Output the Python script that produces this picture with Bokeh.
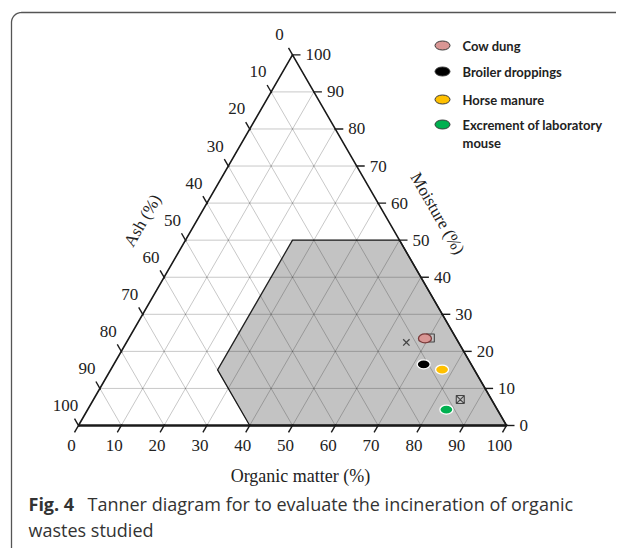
import numpy as np
from bokeh.plotting import figure
from bokeh.models import Range1d
from bokeh.core.properties import value
from bokeh.embed import file_html
from bokeh.resources import INLINE

# ---------------- data ----------------
samples = ["Cow dung", "Broiler droppings", "Horse manure", "Excrement of laboratory mouse"]
organic = [69.2, 72.4, 77.4, 83.8]
moisture = [23.5, 16.5, 15.1, 4.3]
ash = [7.3, 11.1, 7.5, 11.9]
colors = ["#d99694", "#000000", "#ffc000", "#00b050"]
outlines = ["#7a3a3a", "#ffffff", "#ffffff", "#ffffff"]

# other small reference markers in the diagram
ref_organic = [65.4, 70.4, 85.7]
ref_moisture = [22.4, 23.6, 7.0]
ref_ash = [12.2, 6.0, 7.3]
ref_markers = ["x", "square", "square_x"]

# Tanner combustible zone
zone_organic = [25, 25, 40, 100, 50]
zone_moisture = [50, 15, 0, 0, 50]
zone_ash = [25, 60, 60, 0, 0]

ticks = list(range(0, 101, 10))
grid_vals = list(range(10, 100, 10))

# ---------------- geometry ----------------
S = 4.28            # px per data unit
SQ = np.sqrt(3) / 2
W, H = 616, 548
PX0, PY0 = 0, 0     # page offset of the figure
x0 = (PX0 - 78) / S
ytop = (425 - PY0) / S


def tern(o, m, a):
    o = np.asarray(o, dtype=float); m = np.asarray(m, dtype=float); a = np.asarray(a, dtype=float)
    t = o + m + a
    o = o / t * 100; m = m / t * 100
    return o + m / 2, m * SQ


def pg(px, py):
    return (px - 78) / S, (425 - py) / S


def off(dx, dy):
    return dx / S, -dy / S


p = figure(width=W, height=H, x_range=Range1d(x0, x0 + W / S),
           y_range=Range1d(ytop - H / S, ytop), output_backend="svg",
           toolbar_location=None, min_border=0,
           x_axis_location=None, y_axis_location=None)
p.grid.visible = False
p.outline_line_color = None
p.background_fill_color = "white"

# border (rounded top-left corner)
r = 10
cx, cy = pg(11 + r, 12 + r)
th = np.linspace(np.pi, np.pi / 2, 20)
bx = [pg(11, 560)[0]] + list(cx + r / S * np.cos(th)) + [pg(640, 12)[0]]
by = [pg(11, 560)[1]] + list(cy + r / S * np.sin(th)) + [pg(640, 12)[1]]
p.line(bx, by, line_color="#555555", line_width=1.3)

# zone
zx, zy = tern(zone_organic, zone_moisture, zone_ash)
p.patch(list(zx), list(zy), fill_color="#c3c3c3", line_color="#222222", line_width=1.3)

# grid
gxs, gys = [], []
for v in grid_vals:
    for (a1, a2) in [((0, v, 100 - v), (100 - v, v, 0)),
                     ((v, 0, 100 - v), (v, 100 - v, 0)),
                     ((100 - v, 0, v), (0, 100 - v, v))]:
        xa, ya = tern(*a1); xb, yb = tern(*a2)
        gxs.append([float(xa), float(xb)]); gys.append([float(ya), float(yb)])
p.multi_line(gxs, gys, line_color="black", line_alpha=0.22, line_width=1)

# triangle sides
cxs, cys = tern([0, 100, 0], [0, 0, 100], [100, 0, 0])
p.line([float(cxs[0]), float(cxs[2]), float(cxs[1])], [float(cys[0]), float(cys[2]), float(cys[1])],
       line_color="#1a1a1a", line_width=1.6)
p.line([float(cxs[0]), float(cxs[1])], [float(cys[0]), float(cys[1])], line_color="#1a1a1a", line_width=2.6)

# ticks and tick labels
L = 8 / S
tx, ty, = [], []
serif = value("Liberation Serif")
lab_b = {"x": [], "y": [], "t": []}
lab_r = {"x": [], "y": [], "t": []}
lab_l = {"x": [], "y": [], "t": []}
for v in ticks:
    # bottom: organic
    bx_, by_ = tern(v, 0, 100 - v)
    tx.append([float(bx_) + 0.15, float(bx_) - 0.5 * L]); ty.append([float(by_) + 0.26, float(by_) - SQ * L])
    ox, oy = off(-7, 20)
    lab_b["x"].append(float(bx_) + ox); lab_b["y"].append(float(by_) + oy); lab_b["t"].append(str(v))
    # right: moisture
    rx_, ry_ = tern(100 - v, v, 0)
    tx.append([float(rx_) - 0.2, float(rx_) + L]); ty.append([float(ry_), float(ry_)])
    ox, oy = off(13, 0)
    lab_r["x"].append(float(rx_) + ox); lab_r["y"].append(float(ry_) + oy); lab_r["t"].append(str(v))
    # left: ash
    lx_, ly_ = tern(0, 100 - v, v)
    tx.append([float(lx_) + 0.15, float(lx_) - 0.5 * L]); ty.append([float(ly_) - 0.26, float(ly_) + SQ * L])
    ox, oy = off(-13, -20)
    lab_l["x"].append(float(lx_) + ox); lab_l["y"].append(float(ly_) + oy); lab_l["t"].append(str(v))
p.multi_line(tx, ty, line_color="#1a1a1a", line_width=1.4)

TF = "17px"
p.text(lab_b["x"], lab_b["y"], text=lab_b["t"], text_font=serif, text_font_size=TF,
       text_align="center", text_baseline="middle", text_color="#222222")
p.text(lab_r["x"], lab_r["y"], text=lab_r["t"], text_font=serif, text_font_size=TF,
       text_align="left", text_baseline="middle", text_color="#222222")
p.text(lab_l["x"], lab_l["y"], text=lab_l["t"], text_font=serif, text_font_size=TF,
       text_align="center", text_baseline="middle", text_color="#222222")

# axis titles
ax_, ay_ = pg(142, 220)
p.text([ax_], [ay_], text=["Ash (%)"], angle=np.pi / 3, text_font=serif, text_font_size="17px",
       text_align="center", text_baseline="middle", text_color="#222222")
mx_, my_ = pg(437, 213)
p.text([mx_], [my_], text=["Moisture (%)"], angle=-np.pi / 3, text_font=serif, text_font_size="17px",
       text_align="center", text_baseline="middle", text_color="#222222")
ox_, oy_ = pg(309, 475)
p.text([ox_], [oy_], text=["Organic   matter   (%)"], text_font=serif, text_font_size="18px",
       text_align="center", text_baseline="middle", text_color="#222222")

# reference markers
rx, ry = tern(ref_organic, ref_moisture, ref_ash)
for i, mk in enumerate(ref_markers):
    p.scatter([float(rx[i])], [float(ry[i])], marker=mk, size=9 if mk == "x" else 8, fill_color=None,
              line_color="#444444", line_width=1.3 if mk == "x" else 1.1)

# samples
sx, sy = tern(organic, moisture, ash)
p.ellipse(list(sx), list(sy), width=13, height=9, width_units="screen", height_units="screen",
          fill_color=colors, line_color=outlines, line_width=1.3)

# legend
leg_y = [45, 71, 99, 124]
lx_m = pg(442, 0)[0]
lx_t = pg(462, 0)[0]
ly = [pg(0, yy)[1] for yy in leg_y]
p.ellipse([lx_m] * 4, ly, width=15, height=9, width_units="screen", height_units="screen",
          fill_color=colors, line_color="#3a3a3a", line_width=1)
leg_text = ["Cow dung", "Broiler droppings", "Horse manure", "Excrement of laboratory"]
p.text([lx_t] * 4, ly, text=leg_text, text_font=value("Lato"), text_font_style="bold",
       text_font_size="13px", text_align="left", text_baseline="middle", text_color="#222222")
p.text([lx_t], [pg(0, 142)[1]], text=["mouse"], text_font=value("Lato"), text_font_style="bold",
       text_font_size="13px", text_align="left", text_baseline="middle", text_color="#222222")

# caption
c1x, c1y = pg(28, 503)
p.text([c1x], [c1y], text=["Fig. 4"], text_font=value("Open Sans"), text_font_style="bold",
       text_font_size="18px", text_align="left", text_baseline="middle", text_color="#333333")
c2x, _ = pg(87, 503)
p.text([c2x], [c1y], text=["Tanner diagram for to evaluate the incineration of organic"],
       text_font=value("Open Sans"), text_font_size="18px", text_align="left",
       text_baseline="middle", text_color="#333333")
c3x, c3y = pg(28, 529)
p.text([c3x], [c3y], text=["wastes studied"], text_font=value("Open Sans"), text_font_size="18px",
       text_align="left", text_baseline="middle", text_color="#333333")

open("out.html", "w").write(file_html(p, INLINE))
